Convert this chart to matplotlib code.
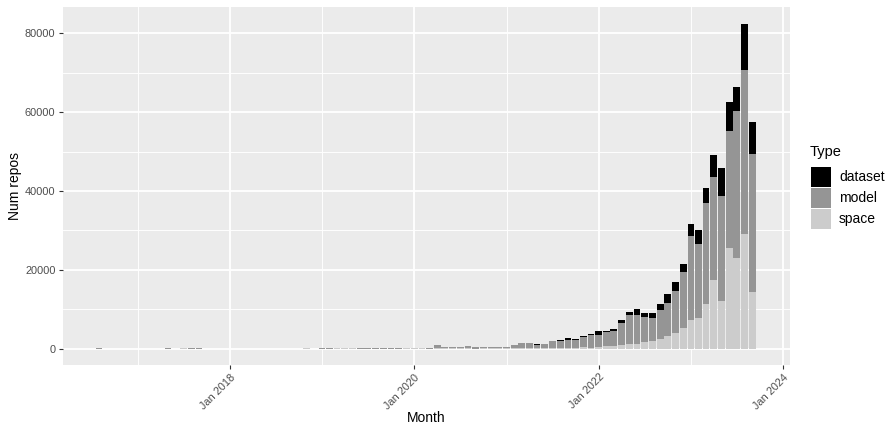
import matplotlib
matplotlib.use("Agg")
import matplotlib.pyplot as plt
import matplotlib.dates as mdates
from matplotlib.patches import Rectangle
import pandas as pd

# monthly repo counts, Aug 2016 .. Sep 2023
months = pd.date_range("2016-08-01", "2023-09-01", freq="MS")

space = [0, 0, 0, 0, 0,
         0, 0, 0, 0, 0, 0, 200, 0, 0, 0, 0, 0,
         0, 0, 0, 0, 0, 0, 0, 0, 0, 0, 250, 0,
         0, 0, 250, 250, 250, 0, 0, 0, 0, 0, 0, 250,
         250, 200, 0, 100, 100, 100, 100, 100, 50, 100, 100, 100,
         100, 100, 100, 100, 100, 100, 100, 100, 100, 100, 400, 300,
         400, 700, 800, 1000, 1300, 1300, 1700, 1900, 2500, 3300, 4000, 5200,
         7300, 7900, 11400, 17500, 12100, 25600, 22900, 29200, 14400]

model = [200, 0, 0, 0, 0,
         0, 0, 0, 0, 200, 0, 0, 200, 200, 0, 0, 0,
         0, 0, 0, 0, 0, 0, 0, 0, 0, 0, 0, 0,
         250, 250, 0, 0, 0, 250, 250, 250, 250, 250, 250, 0,
         0, 0, 300, 900, 400, 400, 400, 650, 450, 400, 400, 400,
         400, 900, 1400, 1400, 850, 1100, 1900, 1900, 2100, 2100, 2600, 3200,
         3100, 3500, 3700, 5500, 7300, 7300, 6400, 5900, 7300, 8300, 10700, 14300,
         21300, 18700, 25600, 26100, 26700, 29700, 37300, 41600, 35100]

dataset = [0, 0, 0, 0, 0,
           0, 0, 0, 0, 0, 0, 0, 0, 0, 0, 0, 0,
           0, 0, 0, 0, 0, 0, 0, 0, 0, 0, 0, 0,
           0, 0, 0, 0, 0, 0, 0, 0, 0, 0, 0, 0,
           0, 0, 0, 0, 0, 0, 0, 0, 0, 0, 0, 0,
           0, 0, 0, 0, 300, 0, 0, 200, 500, 300, 200, 200,
           1000, 300, 500, 800, 700, 1500, 1000, 1300, 1600, 2300, 2200, 2000,
           3100, 3600, 3800, 5500, 7100, 7400, 6300, 11700, 8100]

type_names = ["dataset", "model", "space"]
type_colors = ["#000000", "#959595", "#CCCCCC"]

y_ticks = [0, 20000, 40000, 60000, 80000]
y_minor = [10000, 30000, 50000, 70000]
x_tick_years = [2018, 2020, 2022, 2024]
x_minor_years = [2017, 2019, 2021, 2023]

plt.rcParams["font.family"] = ["Liberation Sans", "DejaVu Sans"]

W, H = 888, 428
fig = plt.figure(figsize=(W / 100, H / 100), dpi=100)
ax = fig.add_axes([62.7 / W, 1 - 365 / H, (789.5 - 62.7) / W, (365 - 7.3) / H])
ax.set_facecolor("#EBEBEB")

x = mdates.date2num(months)
bar_w = 27  # days
bottom = [0] * len(x)
for vals, col in zip([space, model, dataset], type_colors[::-1]):
    ax.bar(x, vals, width=bar_w, bottom=bottom, color=col, linewidth=0, zorder=3)
    bottom = [b + v for b, v in zip(bottom, vals)]

def jan(y):
    return mdates.date2num(pd.Timestamp(f"{y}-01-01"))

ax.set_xlim(mdates.date2num(pd.Timestamp("2016-03-10")),
            mdates.date2num(pd.Timestamp("2024-01-26")))
top = max(bottom)
ax.set_ylim(-0.05 * top, 1.05 * top)

ax.set_yticks(y_ticks)
ax.set_yticklabels([str(v) for v in y_ticks])
ax.set_yticks(y_minor, minor=True)
ax.set_xticks([jan(y) for y in x_tick_years])
ax.set_xticklabels([f"Jan {y}" for y in x_tick_years], rotation=45,
                   ha="right", va="top", rotation_mode="anchor")
ax.set_xticks([jan(y) for y in x_minor_years], minor=True)

ax.grid(which="major", color="white", linewidth=1.3, zorder=1)
ax.grid(which="minor", color="white", linewidth=0.65, zorder=1)
ax.set_axisbelow(True)
for s in ax.spines.values():
    s.set_visible(False)

ax.tick_params(which="major", length=2.6, width=0.8, color="#333333",
               labelsize=7.9, labelcolor="#4D4D4D", pad=2.5)
ax.tick_params(which="minor", length=0)

ax.set_xlabel("Month", fontsize=10, labelpad=0)
ax.set_ylabel("Num repos", fontsize=10, labelpad=2.5)

# legend, drawn by hand like ggplot's guide
def fx(px):
    return px / W

def fy(py):
    return 1 - py / H

fig.text(fx(810), fy(151.5), "Type", fontsize=10.5, va="center", ha="left")
key_top = 167.0
key_h = 19.6
key_gap = 1.5
for i, (name, col) in enumerate(zip(type_names, type_colors)):
    t = key_top + i * (key_h + key_gap)
    fig.add_artist(Rectangle((fx(810.5), fy(t + key_h)), fx(20.5), key_h / H,
                             transform=fig.transFigure, facecolor=col,
                             edgecolor="none"))
    fig.text(fx(839), fy(t + key_h / 2), name, fontsize=10, va="center", ha="left")

fig.savefig("out.png", dpi=100)
